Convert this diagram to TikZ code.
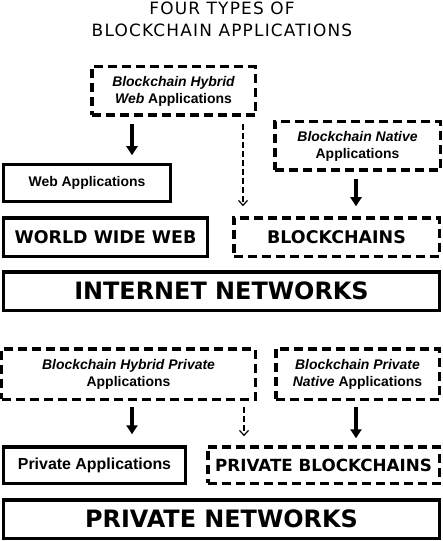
\documentclass[tikz,border=0pt]{standalone}
\usepackage{fontspec}
\setmainfont{Liberation Sans}
\newfontfamily\capsfont{DejaVu Sans}
\newfontfamily\titlefont[LetterSpace=7]{DejaVu Sans}
\usetikzlibrary{arrows.meta}
\begin{document}
\begin{tikzpicture}[x=1bp,y=-1bp,
  solidbox/.style={draw=black, line width=3.5bp, inner sep=0pt, align=center},
  dashbox/.style={solidbox, dash pattern=on 9bp off 5bp},
  smalltxt/.style={font=\fontsize{14}{17}\selectfont\bfseries},
  midcaps/.style={font=\capsfont\fontsize{17.5}{20}\selectfont\bfseries},
  bigcaps/.style={font=\capsfont\fontsize{24}{28}\selectfont\bfseries},
  titletxt/.style={font=\titlefont\fontsize{17}{20}\selectfont, inner sep=0pt},
  bigarrow/.style={line width=3.5bp, -{Triangle[length=9bp,width=11bp]}},
  thinarrow/.style={line width=1.2bp, dash pattern=on 6bp off 3bp, -{Straight Barb[length=5bp,width=9bp,line width=1.2bp]}}
]
\useasboundingbox[fill=white] (0,0) rectangle (443,541);
% title
\node[titletxt] (t1) at (222,8) {FOUR TYPES OF};
\node[titletxt] (t2) at (222,30.5) {BLOCKCHAIN APPLICATIONS};
% upper half
\node[dashbox, smalltxt, minimum width=163.5bp, minimum height=48.5bp] (hw) at (173.5,91)
  {{\itshape Blockchain Hybrid}\\{\itshape Web} Applications};
\node[solidbox, smalltxt, minimum width=166.5bp, minimum height=36.5bp] (wa) at (87,183) {Web Applications};
\node[dashbox, smalltxt, minimum width=165.5bp, minimum height=48.5bp] (bn) at (357.5,146)
  {{\itshape Blockchain Native}\\Applications};
\node[solidbox, midcaps, minimum width=203.5bp, minimum height=38.5bp] (www) at (105.5,237) {WORLD WIDE WEB};
\node[dashbox, midcaps, minimum width=205.5bp, minimum height=38.5bp] (bc) at (336.5,237) {BLOCKCHAINS};
\node[solidbox, bigcaps, minimum width=435.5bp, minimum height=38.5bp] (inet) at (221.5,291) {INTERNET NETWORKS};
% lower half
\node[dashbox, smalltxt, minimum width=253.5bp, minimum height=50.5bp] (hp) at (128.5,374)
  {{\itshape Blockchain Hybrid Private}\\Applications};
\node[dashbox, smalltxt, minimum width=163.5bp, minimum height=50.5bp] (pn) at (357.5,374)
  {{\itshape Blockchain Private}\\{\itshape Native} Applications};
\node[solidbox, font=\fontsize{16}{19}\selectfont\bfseries, minimum width=181.5bp, minimum height=36.5bp] (pa) at (94.5,465) {Private Applications};
\node[dashbox, font=\capsfont\fontsize{16.8}{20}\selectfont\bfseries, minimum width=231.5bp, minimum height=36.5bp] (pb) at (323.5,465) {PRIVATE BLOCKCHAINS};
\node[solidbox, bigcaps, minimum width=435.5bp, minimum height=38.5bp] (pnet) at (221.5,519) {PRIVATE NETWORKS};
% columns
\coordinate (xa) at (132,0);
\coordinate (xb) at (243,0);
\coordinate (xc) at (356,0);
\coordinate (xd) at (244,0);
% connectors
\draw[bigarrow, shorten <=6.75bp, shorten >=7.75bp] (hw.south -| xa) -- (wa.north -| xa);
\draw[thinarrow, shorten <=6.75bp, shorten >=9.75bp] (hw.south -| xb) -- (bc.north -| xb);
\draw[bigarrow, shorten <=6.75bp, shorten >=9.75bp] (bn.south -| xc) -- (bc.north -| xc);
\draw[bigarrow, shorten <=5.75bp, shorten >=10.75bp] (hp.south -| xa) -- (pa.north -| xa);
\draw[thinarrow, shorten <=5.75bp, shorten >=8.75bp] (hp.south -| xd) -- (pb.north -| xd);
\draw[bigarrow, shorten <=5.75bp, shorten >=6.75bp] (pn.south -| xc) -- (pb.north -| xc);
\end{tikzpicture}
\end{document}
